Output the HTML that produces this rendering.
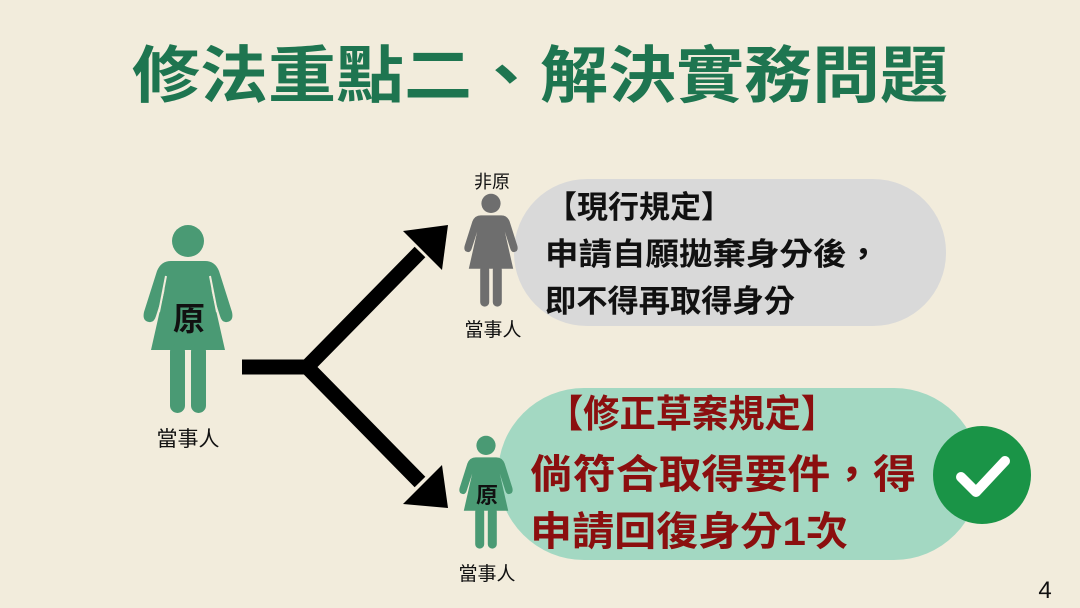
<!DOCTYPE html>
<html><head><meta charset="utf-8">
<style>
html,body{margin:0;padding:0;background:#f2ecdc;}
svg{display:block;font-family:"Liberation Sans","Noto Sans CJK TC",sans-serif;}
</style></head>
<body>
<svg width="1080" height="608" viewBox="0 0 1080 608" xmlns="http://www.w3.org/2000/svg">
<defs>
  <g id="fig">
    <circle cx="188" cy="241" r="16"/>
    <path d="M171,261 L205,261 Q215,261 219,271 L232,312 Q234,321 227,322 Q222,323 220,316 L211,288 L225,350 L151,350 L165,288 L156,316 Q154,323 149,322 Q142,321 144,312 L157,271 Q161,261 171,261 Z"/>
    <rect x="170" y="344" width="15" height="69" rx="7.5"/>
    <rect x="191" y="344" width="15" height="69" rx="7.5"/>
  </g>
</defs>
<rect width="1080" height="608" fill="#f2ecdc"/>
<text x="540" y="97" text-anchor="middle" font-size="62" font-weight="bold" fill="#1e7550" textLength="816" lengthAdjust="spacingAndGlyphs">修法重點二、解決實務問題</text>

<!-- big figure -->
<g fill="#4a9a74"><use href="#fig"/></g>
<g stroke="#f2ecdc" stroke-width="2"><line x1="166" y1="276" x2="159" y2="312"/><line x1="210" y1="276" x2="217" y2="312"/></g>
<text x="189" y="330" text-anchor="middle" font-size="32" font-weight="bold" fill="#111">原</text>
<text x="188" y="446" text-anchor="middle" font-size="21" fill="#111">當事人</text>

<!-- arrows -->
<g stroke="#000" stroke-width="15" fill="none">
  <path d="M242,367 L307,367 L420,252"/>
  <path d="M307,367 L420,482"/>
</g>
<polygon points="448,225 442,270 403,231" fill="#000"/>
<polygon points="448,508 403,504 442,465" fill="#000"/>

<!-- gray pill -->
<rect x="514" y="179" width="432" height="147" rx="73" fill="#d9d9d9"/>
<text x="546" y="218" font-size="31" font-weight="bold" fill="#111" textLength="186" lengthAdjust="spacingAndGlyphs">【現行規定】</text>
<text x="545" y="265" font-size="31" font-weight="bold" fill="#111" textLength="335" lengthAdjust="spacingAndGlyphs">申請自願拋棄身分後，</text>
<text x="545" y="312" font-size="31" font-weight="bold" fill="#111" textLength="250" lengthAdjust="spacingAndGlyphs">即不得再取得身分</text>

<!-- gray small figure -->
<g fill="#6e6e6e" transform="translate(378.2,58.8) scale(0.6)"><use href="#fig"/></g>
<text x="492" y="188" text-anchor="middle" font-size="18" fill="#111">非原</text>
<text x="493" y="336" text-anchor="middle" font-size="19" fill="#111">當事人</text>

<!-- green pill -->
<rect x="498" y="388" width="482" height="172" rx="86" fill="#a3d8c2"/>
<text x="547" y="427" font-size="38" font-weight="bold" fill="#8b0f0f" textLength="290" lengthAdjust="spacingAndGlyphs">【修正草案規定】</text>
<text x="530" y="488" font-size="40" font-weight="bold" fill="#8b0f0f" textLength="386" lengthAdjust="spacingAndGlyphs">倘符合取得要件，得</text>
<text x="530" y="545" font-size="40" font-weight="bold" fill="#8b0f0f" textLength="318" lengthAdjust="spacingAndGlyphs">申請回復身分1次</text>

<!-- check -->
<circle cx="982" cy="475" r="49" fill="#1a9447"/>
<path d="M961,477 L976,492 L1005,461" stroke="#fff" stroke-width="10" fill="none" stroke-linecap="round" stroke-linejoin="round"/>

<!-- green small figure -->
<g fill="#4a9a74" transform="translate(373.2,300.8) scale(0.6)"><use href="#fig"/></g>
<text x="487" y="503" text-anchor="middle" font-size="22" font-weight="bold" fill="#111">原</text>
<text x="487" y="580" text-anchor="middle" font-size="19" fill="#111">當事人</text>

<text x="1045" y="598" text-anchor="middle" font-size="24" fill="#111">4</text>
</svg>
</body></html>
